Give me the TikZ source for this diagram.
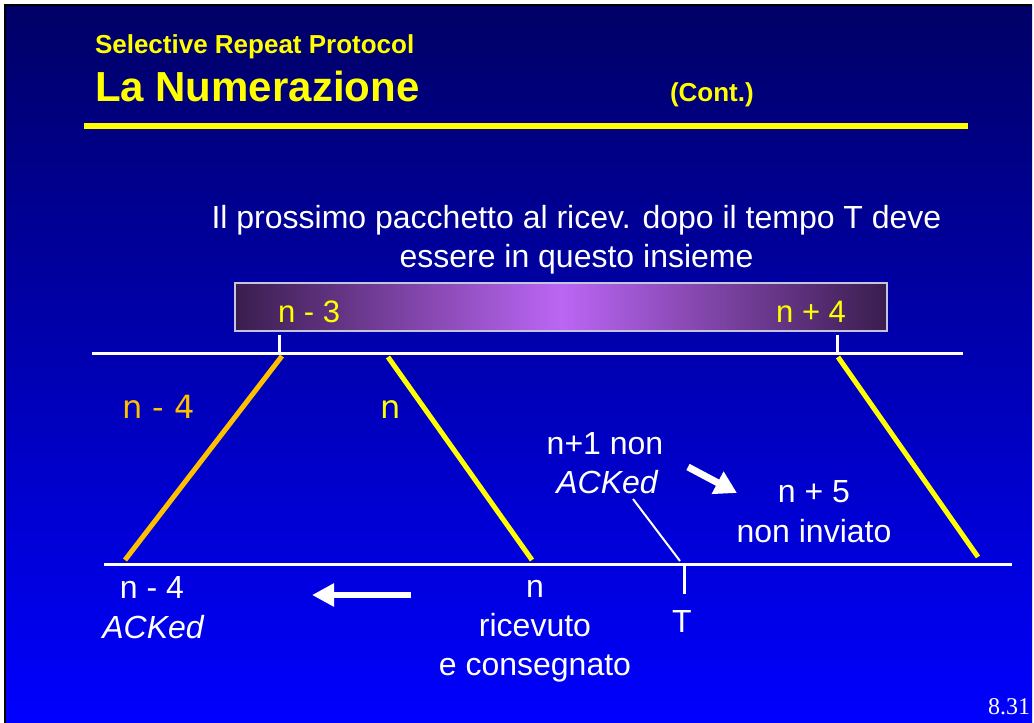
\documentclass[tikz,border=0pt]{standalone}
\usepackage{fontspec}
\setmainfont{Liberation Sans}
\newfontfamily\dejavu{DejaVu Sans}
\newfontfamily\timesnum{Liberation Serif}
\usetikzlibrary{arrows.meta}
\definecolor{bgtop}{HTML}{000066}
\definecolor{bgbot}{HTML}{0000FF}
\definecolor{ttl}{HTML}{FFFF00}
\definecolor{orng}{HTML}{FFC000}
\definecolor{pdark}{HTML}{3A1D4E}
\definecolor{plight}{HTML}{BB66F4}
\definecolor{boxedge}{HTML}{C4C4DC}
\begin{document}
\begin{tikzpicture}[x=1pt,y=-1pt,
  every node/.style={inner sep=0pt,outer sep=0pt},
  lbl/.style={text=white,font=\fontsize{32}{38}\selectfont},
  lblit/.style={text=white,font=\itshape\fontsize{32}{38}\selectfont},
  seqlbl/.style={font=\dejavu\fontsize{32}{38}\selectfont},
  axisline/.style={draw=white,line width=3pt},
  tickline/.style={draw=white,line width=3pt},
  pkt/.style={line width=5pt},
  fatarrow/.style={draw=white,line width=7pt,-{Triangle[length=22pt,width=24pt]}},
  titlefont/.style={text=ttl,font=\bfseries\fontsize{26}{30}\selectfont}
]
\useasboundingbox (0,0) rectangle (1034,723);
\fill[white] (0,0) rectangle (1034,723);
\shade[top color=bgtop,bottom color=bgbot] (5,5) rectangle (1032,723);
\draw[black,line width=2pt] (5,723) -- (5,5) -- (1032,5);

% titles
\node[titlefont,anchor=base west] (t1) at (95,53) {Selective Repeat Protocol};
\node[text=ttl,font=\bfseries\fontsize{42}{48}\selectfont,anchor=base west] (t2) at (95,101) {La Numerazione};
\node[titlefont,anchor=base west] (t3) at (670,101) {(Cont.)};
\fill[ttl] (84,123) rectangle (968,129);

% explanatory text
\node[lbl,anchor=base] (p1) at (576.5,228) {Il prossimo pacchetto al ricev. dopo il tempo T deve};
\node[lbl,anchor=base] (p2) at (576.5,267) {essere in questo insieme};

% window box
\node[draw=boxedge,line width=1.5pt,left color=pdark,right color=pdark,middle color=plight,
      minimum width=652pt,minimum height=48pt,anchor=north west] (win) at (235,283) {};
\node[text=ttl,font=\fontsize{31}{36}\selectfont,anchor=base west] (nm3) at (278,322) {n - 3};
\node[text=ttl,font=\fontsize{31}{36}\selectfont,anchor=base east] (np4) at (846,322) {n + 4};

% axes
\coordinate (topL) at (92,353);
\coordinate (topR) at (963,353);
\coordinate (botL) at (104,564);
\coordinate (botR) at (1012,564);
\draw[axisline] (topL) -- (topR);
\draw[axisline] (botL) -- (botR);

% ticks
\coordinate (tk1a) at (279,335); \coordinate (tk1b) at (279,353);
\coordinate (tk2a) at (837,335); \coordinate (tk2b) at (837,353);
\coordinate (tk3a) at (684,564); \coordinate (tk3b) at (684,594);
\draw[tickline] (tk1a) -- (tk1b);
\draw[tickline] (tk2a) -- (tk2b);
\draw[tickline] (tk3a) -- (tk3b);

% packet lines
\coordinate (a1) at (282,356); \coordinate (a2) at (125,560);
\coordinate (b1) at (388,357); \coordinate (b2) at (532,560);
\coordinate (c1) at (838,357); \coordinate (c2) at (978,557);
\draw[pkt,orng] (a1) -- (a2);
\draw[pkt,ttl] (b1) -- (b2);
\draw[pkt,ttl] (c1) -- (c2);

% labels between lines
\node[seqlbl,text=orng,anchor=base west] (lnm4) at (122,418) {n - 4};
\node[seqlbl,text=ttl,anchor=base west] (ln) at (380,418) {n};

\node[lbl,anchor=base] (n1a) at (605,454) {n+1 non};
\node[lblit,anchor=base] (n1b) at (607,493) {ACKed};
\coordinate (ptrA) at (633,499);
\coordinate (ptrB) at (680,561);
\draw[white,line width=2pt] (ptrA) -- (ptrB);

\coordinate (fa1) at (688,467);
\coordinate (fa2) at (737,493);
\draw[fatarrow] (fa1) -- (fa2);

\node[lbl,anchor=base] (n5a) at (814,502) {n + 5};
\node[lbl,anchor=base] (n5b) at (814,542) {non inviato};

% bottom labels
\node[lbl,anchor=base] (bnm4) at (152,598) {n - 4};
\node[lblit,anchor=base] (back) at (153,638) {ACKed};

\coordinate (la1) at (411,595);
\coordinate (la2) at (312,595);
\draw[draw=white,line width=6pt,-{Triangle[length=22pt,width=22pt]}] (la1) -- (la2);

\node[lbl,anchor=base] (bn) at (535,597) {n};
\node[lbl,anchor=base] (bric) at (535,636) {ricevuto};
\node[lbl,anchor=base] (bcons) at (535,675) {e consegnato};
\node[lbl,anchor=base] (bT) at (682,632) {T};

\node[text=white,font=\timesnum\fontsize{24}{28}\selectfont,anchor=base east] (pg) at (1030,714) {8.31};
\end{tikzpicture}
\end{document}
